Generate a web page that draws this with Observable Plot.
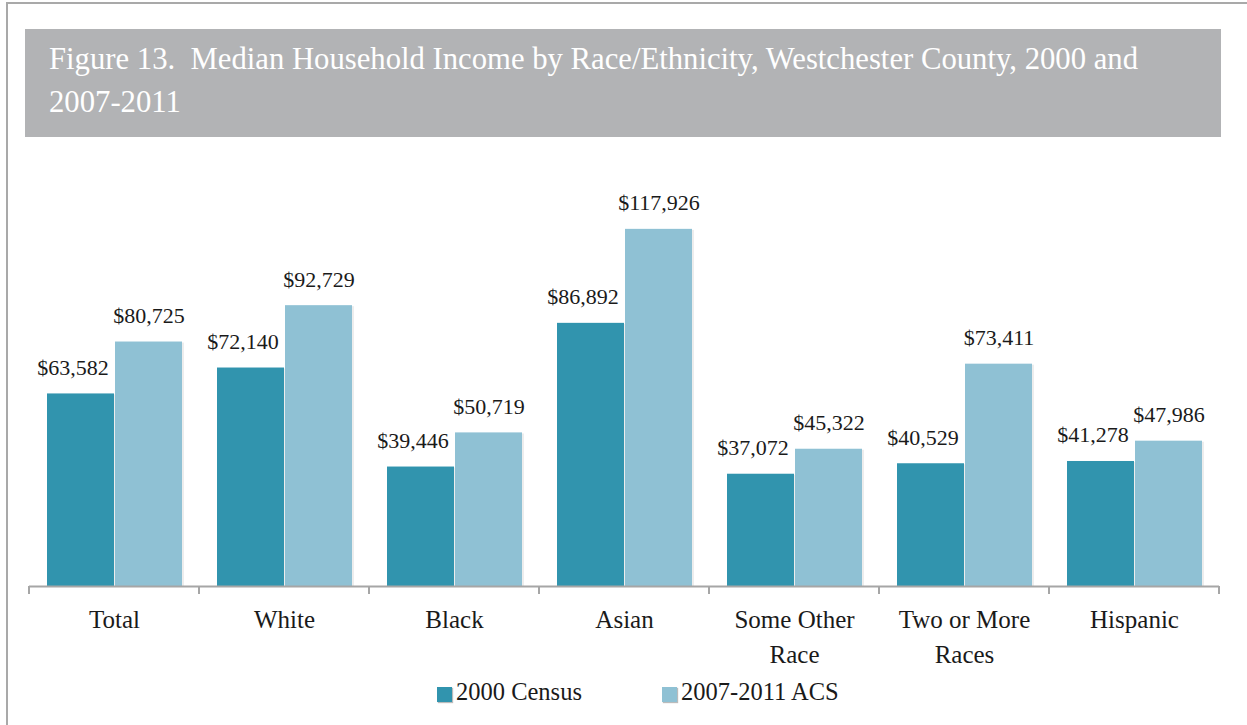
<!DOCTYPE html>
<html><head><meta charset="utf-8">
<script src="https://cdn.jsdelivr.net/npm/d3@7"></script>
<script src="https://cdn.jsdelivr.net/npm/@observablehq/plot@0.6"></script>
<style>
body{margin:0;background:#fff;width:1247px;height:725px;position:relative;overflow:hidden;font-family:"Liberation Serif","Times New Roman",serif;color:#1a1a1a;}
#frame{position:absolute;left:6px;top:2px;width:1400px;height:900px;border-left:2px solid #a9a9a9;border-top:2px solid #a9a9a9;}
#title{position:absolute;left:25px;top:29px;width:1196px;height:108px;box-sizing:border-box;background:#b2b3b5;color:#fff;font-size:30.7px;line-height:43px;padding:9px 0 0 24px;white-space:nowrap;}
#chart{position:absolute;left:0;top:140px;}
.leg{position:absolute;top:678px;font-size:24.5px;line-height:28px;white-space:nowrap;}
.sw{position:absolute;top:687px;width:15px;height:15px;box-shadow:1px 1px 1px #bbb;}
</style></head>
<body>
<div id="frame"></div>
<div id="title">Figure 13.&nbsp; Median Household Income by Race/Ethnicity, Westchester County, 2000 and<br>2007-2011</div>
<div id="chart"></div>
<div id="legend"></div>
<script>
const categories = ["Total","White","Black","Asian","Some Other Race","Two or More Races","Hispanic"];
const categoryLabels = ["Total","White","Black","Asian","Some Other\nRace","Two or More\nRaces","Hispanic"];
const series = ["2000 Census","2007-2011 ACS"];
const census2000 = [63582,72140,39446,86892,37072,40529,41278];
const acs20072011 = [80725,92729,50719,117926,45322,73411,47986];
const colors = ["#3194ae","#8fc1d4"];

const data = categories.flatMap((c,i)=>[
  {category:c, series:series[0], value:census2000[i]},
  {category:c, series:series[1], value:acs20072011[i]}
]);
const labelOf = new Map(categories.map((c,i)=>[c,categoryLabels[i]]));
const fmt = v => "$" + d3.format(",")(v);

const boundaryTicks = Plot.frame({
  facet: "super",
  stroke: "none",
  render(index, scales, values, dimensions, context, next) {
    const g = d3.create("svg:g").attr("stroke", "#a6a6a6").attr("stroke-width", 2);
    const fx = scales.fx;
    const y0 = dimensions.height - dimensions.marginBottom;
    const xs = categories.map(c => fx(c));
    xs.push(fx(categories[categories.length-1]) + fx.bandwidth());
    for (const x of xs) g.append("line").attr("x1", x).attr("x2", x).attr("y1", y0).attr("y2", y0 + 8);
    return g.node();
  }
});

const plot = Plot.plot({
  width: 1247, height: 540,
  marginLeft: 28, marginRight: 27, marginTop: 22, marginBottom: 94,
  style: {fontFamily: "Liberation Serif, Times New Roman, serif", color: "#1a1a1a", background: "transparent"},
  fx: {domain: categories, padding: 0, label: null},
  x: {domain: series, paddingInner: 0.02, paddingOuter: 0.25, axis: null},
  y: {domain: [0, 140000], axis: null},
  color: {domain: series, range: colors},
  marks: [
    Plot.barY(data, {fx: "category", x: "series", y: "value", fill: "#000", fillOpacity: 0.07, dx: 2, dy: 1}),
    Plot.barY(data, {fx: "category", x: "series", y: "value", fill: "series"}),
    Plot.ruleY([0], {stroke: "#a6a6a6", strokeWidth: 2}),
    Plot.text(data.filter(d => d.series === series[0]), {fx: "category", x: "series", y: "value", text: d => fmt(d.value), dx: -8, dy: -19, lineAnchor: "bottom", fontSize: 22}),
    Plot.text(data.filter(d => d.series === series[1]), {fx: "category", x: "series", y: "value", text: d => fmt(d.value), dy: -19, lineAnchor: "bottom", fontSize: 22}),
    Plot.axisFx({anchor: "bottom", tickSize: 0, tickPadding: 17, fontSize: 25, lineHeight: 1.4, tickFormat: c => labelOf.get(c), label: null}),
    boundaryTicks
  ]
});
document.getElementById("chart").append(plot);

const legend = document.getElementById("legend");
const legX = [437, 662];
series.forEach((s,i)=>{
  const sw = document.createElement("div"); sw.className="sw"; sw.style.left=legX[i]+"px"; sw.style.background=colors[i]; legend.append(sw);
  const t = document.createElement("div"); t.className="leg"; t.style.left=(legX[i]+19)+"px"; t.textContent=s; legend.append(t);
});
</script>
</body></html>
